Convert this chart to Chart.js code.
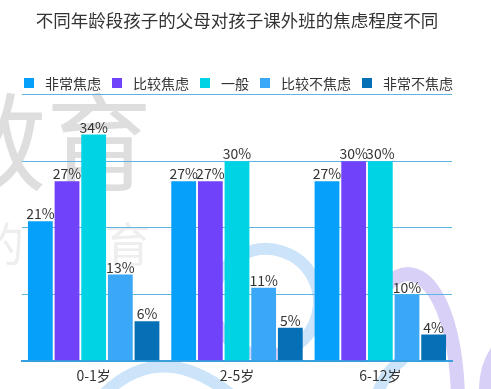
<!DOCTYPE html>
<html>
<head>
<meta charset="utf-8">
<script src="https://cdn.jsdelivr.net/npm/chart.js@4.4.1/dist/chart.umd.min.js"></script>
<style>
    html, body { margin: 0; padding: 0; background: #fff; }
    #wrap { position: relative; width: 491px; height: 389px; }
    #legend {
        position: absolute; left: 24px; top: 74px;
        display: flex; gap: 11px;
        font: 14px "Noto Sans CJK SC", sans-serif; color: #333; line-height: 18px;
    }
    #legend .item { display: flex; align-items: center; }
    #legend .box { width: 10px; height: 10px; margin-right: 11px; }
</style>
</head>
<body>
<div id="wrap">
    <canvas id="myChart" width="491" height="389"></canvas>
    <div id="legend"></div>
</div>
<script>
const titleText = "不同年龄段孩子的父母对孩子课外班的焦虑程度不同";
const categories = ["0-1岁", "2-5岁", "6-12岁"];
const seriesNames = ["非常焦虑", "比较焦虑", "一般", "比较不焦虑", "非常不焦虑"];
const veryAnxious = [21, 27, 27];
const ratherAnxious = [27, 27, 30];
const neutral = [34, 30, 30];
const ratherCalm = [13, 11, 10];
const notAnxious = [6, 5, 4];
const yMin = 0, yMax = 40, yStep = 10;

const seriesValues = [veryAnxious, ratherAnxious, neutral, ratherCalm, notAnxious];
const seriesColors = ["#069ffa", "#7043fb", "#00d3e4", "#3ba7f7", "#0670b6"];
const fontFamily = "'Noto Sans CJK SC', sans-serif";

// html legend
const legendEl = document.getElementById("legend");
seriesNames.forEach((name, i) => {
    const item = document.createElement("div");
    item.className = "item";
    const box = document.createElement("span");
    box.className = "box";
    box.style.background = seriesColors[i];
    const label = document.createElement("span");
    label.textContent = name;
    item.appendChild(box);
    item.appendChild(label);
    legendEl.appendChild(item);
});

// faint background decoration (watermark text + ribbons)
const backdrop = {
    id: "backdrop",
    beforeDraw(chart) {
        const ctx = chart.ctx;
        ctx.save();
        ctx.fillStyle = "#fff";
        ctx.fillRect(0, 0, chart.width, chart.height);

        ctx.textBaseline = "middle";
        ctx.textAlign = "left";
        ctx.fillStyle = "#dedede";
        ctx.font = "106px " + fontFamily;
        ctx.fillText("教育", -60, 142);
        ctx.fillStyle = "#eeeeee";
        ctx.font = "46px " + fontFamily;
        ctx.fillText("的", -22, 244);
        ctx.fillText("育", 105, 244);

        ctx.lineCap = "round";
        ctx.lineWidth = 12;
        ctx.strokeStyle = "#cbe4f9";
        ctx.beginPath();
        ctx.arc(266, 302, 53, Math.PI * 0.85, Math.PI * 2.3);
        ctx.stroke();
        ctx.beginPath();
        ctx.moveTo(100, 398);
        ctx.quadraticCurveTo(160, 335, 235, 398);
        ctx.stroke();
        ctx.beginPath();
        ctx.moveTo(376, 398);
        ctx.quadraticCurveTo(384, 372, 402, 360);
        ctx.stroke();

        ctx.strokeStyle = "#d8d0f6";
        ctx.beginPath();
        ctx.arc(266, 302, 53, Math.PI * 0.3, Math.PI * 0.85);
        ctx.stroke();
        ctx.lineWidth = 14;
        ctx.beginPath();
        ctx.moveTo(388, 284);
        ctx.bezierCurveTo(420, 252, 456, 300, 458, 398);
        ctx.stroke();
        ctx.beginPath();
        ctx.moveTo(505, 342);
        ctx.quadraticCurveTo(484, 362, 486, 398);
        ctx.stroke();
        ctx.restore();
    }
};

// percent labels above the bars
const valueLabels = {
    id: "valueLabels",
    afterDatasetsDraw(chart) {
        const ctx = chart.ctx;
        ctx.save();
        ctx.font = "14px " + fontFamily;
        ctx.fillStyle = "#333";
        ctx.textAlign = "center";
        ctx.textBaseline = "alphabetic";
        chart.data.datasets.forEach((ds, i) => {
            chart.getDatasetMeta(i).data.forEach((bar, j) => {
                ctx.fillText(ds.data[j] + "%", bar.x, bar.y - 2);
            });
        });
        ctx.restore();
    }
};

const ctx = document.getElementById("myChart").getContext("2d");
const myChart = new Chart(ctx, {
    type: "bar",
    data: {
        labels: categories,
        datasets: seriesNames.map((name, i) => ({
            label: name,
            data: seriesValues[i],
            backgroundColor: seriesColors[i],
            borderWidth: 0,
            categoryPercentage: 0.93,
            barPercentage: 0.93
        }))
    },
    options: {
        responsive: false,
        animation: false,
        layout: { padding: { left: 22, right: 39, top: 0, bottom: -1 } },
        plugins: {
            legend: { display: false },
            tooltip: { enabled: false },
            title: {
                display: true,
                text: titleText,
                fullSize: false,
                color: "#333",
                font: { family: fontFamily, size: 17.5, weight: "normal" },
                padding: { top: 9.5, bottom: 64 }
            }
        },
        scales: {
            x: {
                grid: { display: false, drawTicks: false },
                border: { display: true, color: "#3aa0dc", width: 2 },
                ticks: { color: "#333", padding: 6, font: { family: fontFamily, size: 14 } }
            },
            y: {
                min: yMin,
                max: yMax,
                afterFit(scale) { scale.width = 0; },
                ticks: { display: false, stepSize: yStep },
                border: { display: false },
                grid: {
                    drawTicks: false,
                    color: c => c.tick.value === 0 ? "#3aa0dc" : "#5cb6e4",
                    lineWidth: c => c.tick.value === 0 ? 2 : 1
                }
            }
        }
    },
    plugins: [backdrop, valueLabels]
});
</script>
</body>
</html>
